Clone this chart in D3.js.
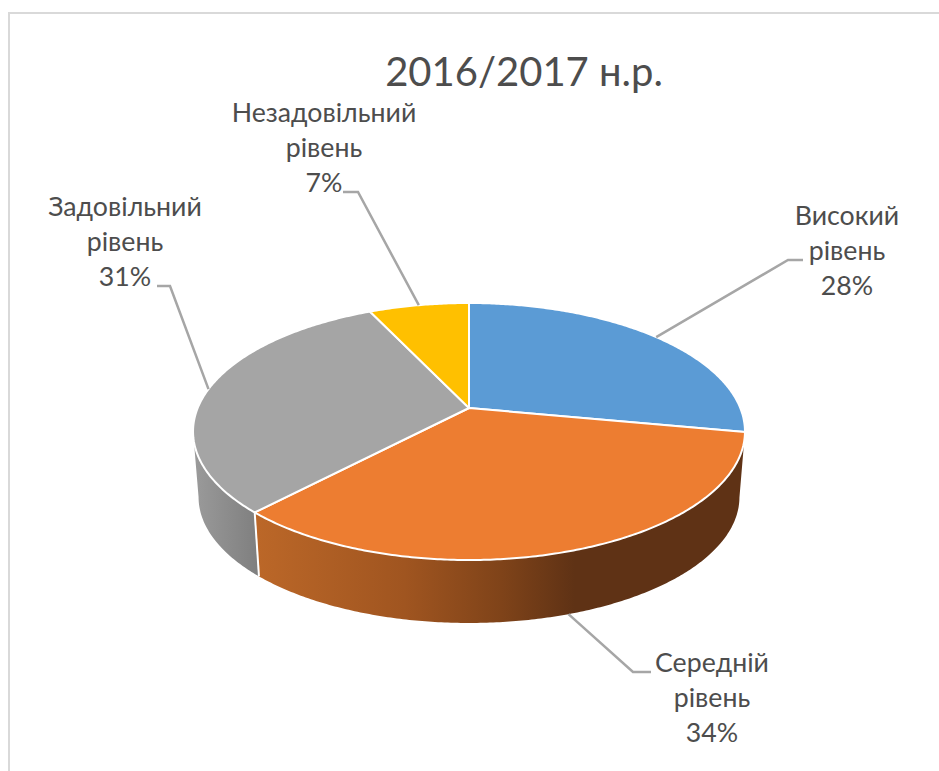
<!DOCTYPE html>
<html>
<head>
<meta charset="utf-8">
<script src="https://cdn.jsdelivr.net/npm/d3@7"></script>
<style>
  html, body { margin: 0; padding: 0; background: #fff; overflow: hidden; }
  text { font-family: Lato, "Open Sans", sans-serif; fill: #4d4d4d; }
</style>
</head>
<body>
<svg id="drawing_region"></svg>
<script>
const title = '2016/2017 н.р.';
const categories = ['Високий рівень', 'Середній рівень', 'Задовільний рівень', 'Незадовільний рівень'];
const values = [28, 34, 31, 7];
const colors = ['#5b9bd5', '#ed7d31', '#a5a5a5', '#ffc000'];

const width = 939;
const height = 771;

// position of each label block: centre x, baseline of first line, elbow and end of the leader
const label_layout = [
    {x: 847, y: 225, elbow: [788, 260], end: [803, 260]},
    {x: 712, y: 672, elbow: [633, 672], end: [651, 672]},
    {x: 125, y: 216, elbow: [170, 286], end: [157, 286]},
    {x: 324, y: 122, elbow: [358, 192], end: [343, 192]}
];

const svg = d3.select('#drawing_region')
    .attr('width', width)
    .attr('height', height);

const defs = svg.append('defs');

// chart frame
svg.append('path')
    .attr('d', 'M9,771V13H939')
    .attr('fill', 'none')
    .attr('stroke', '#d9d9d9')
    .attr('stroke-width', 2);

// the disc is tilted, so the centre sits above the middle of the ellipse: use a small perspective map
const persp = -0.183;
const xscale = d3.scaleLinear().domain([-1, 1]).range([469 - 271.3, 469 + 271.3]);
const yscale = d3.scaleLinear().domain([-1, 1]).range([408 - 124.2, 408 + 124.2]);
const depth = 66;
const shrink = 0.98;

function project( angle, floor ) {
    const u = Math.sin(angle);
    const v = -Math.cos(angle);
    const w = 1 + persp * v;
    const s = floor ? shrink : 1;
    return [
        xscale(0) + (xscale(u / w) - xscale(0)) * s,
        yscale(0) + (yscale(v / w) - yscale(0)) * s + (floor ? depth : 0)
    ];
}

function rim( a0, a1, floor ) {
    const n = Math.max(2, Math.ceil((a1 - a0) / 0.01));
    return d3.range(n + 1).map( i => project(a0 + (a1 - a0) * i / n, floor) );
}

const line = d3.line();
const arcs = d3.pie().sort(null)(values);

// side wall shading, left to right
const wall_grad = [
    {id: 'wall1', x1: 258, x2: 745, stops: [[0, '#bb6728'], [0.3, '#a05520'], [0.5, '#7f4319'], [0.65, '#5f3215'], [1, '#5f3215']]},
    {id: 'wall2', x1: 195, x2: 258, stops: [[0, '#9a9a9a'], [1, '#7f7f7f']]}
];
wall_grad.forEach( g => {
    const grad = defs.append('linearGradient')
        .attr('id', g.id)
        .attr('gradientUnits', 'userSpaceOnUse')
        .attr('x1', g.x1).attr('x2', g.x2)
        .attr('y1', 0).attr('y2', 0);
    g.stops.forEach( s => {
        grad.append('stop').attr('offset', s[0]).attr('stop-color', s[1]);
    });
});

// only the two front slices show a wall; the grey one stops at the left silhouette
const silhouette = 2 * Math.PI - Math.acos(persp);
[1, 2].forEach( i => {
    const a = arcs[i];
    const a1 = i == 2 ? silhouette : a.endAngle;
    svg.append('path')
        .attr('d', line(rim(a.startAngle, a1, false).concat(rim(a.startAngle, a1, true).reverse())) + 'Z')
        .attr('fill', `url(#wall${i})`);
    if ( i == 2 ) {
        svg.append('path')
            .attr('d', line([project(a.startAngle, false), project(a.startAngle, true)]))
            .attr('stroke', '#fff')
            .attr('stroke-width', 2);
    }
});

// top faces
svg.selectAll('path.slice')
    .data(arcs)
    .enter()
    .append('path')
    .attr('class', 'slice')
    .attr('d', d => line([[xscale(0), yscale(0)]].concat(rim(d.startAngle, d.endAngle, false))) + 'Z')
    .attr('fill', (d, i) => colors[i])
    .attr('stroke', '#fff')
    .attr('stroke-width', 2)
    .attr('stroke-linejoin', 'round');

// leaders
svg.selectAll('path.leader')
    .data(arcs)
    .enter()
    .append('path')
    .attr('class', 'leader')
    .attr('d', (d, i) => line([
        project((d.startAngle + d.endAngle) / 2, i == 1),
        label_layout[i].elbow,
        label_layout[i].end
    ]))
    .attr('fill', 'none')
    .attr('stroke', '#a6a6a6')
    .attr('stroke-width', 2.5);

// labels
const lh = 35;
const labels = svg.selectAll('g.label')
    .data(arcs)
    .enter()
    .append('g')
    .attr('class', 'label')
    .attr('text-anchor', 'middle')
    .style('font-size', '26.7px');

labels.each( function(d, i) {
    const g = d3.select(this);
    const lines = categories[i].split(' ').concat(d.value + '%');
    lines.forEach( (t, j) => {
        g.append('text')
            .attr('x', label_layout[i].x)
            .attr('y', label_layout[i].y + j * lh)
            .text(t);
    });
});

svg.append('text')
    .attr('x', 524)
    .attr('y', 86)
    .attr('text-anchor', 'middle')
    .style('font-size', '40px')
    .text(title);
</script>
</body>
</html>
